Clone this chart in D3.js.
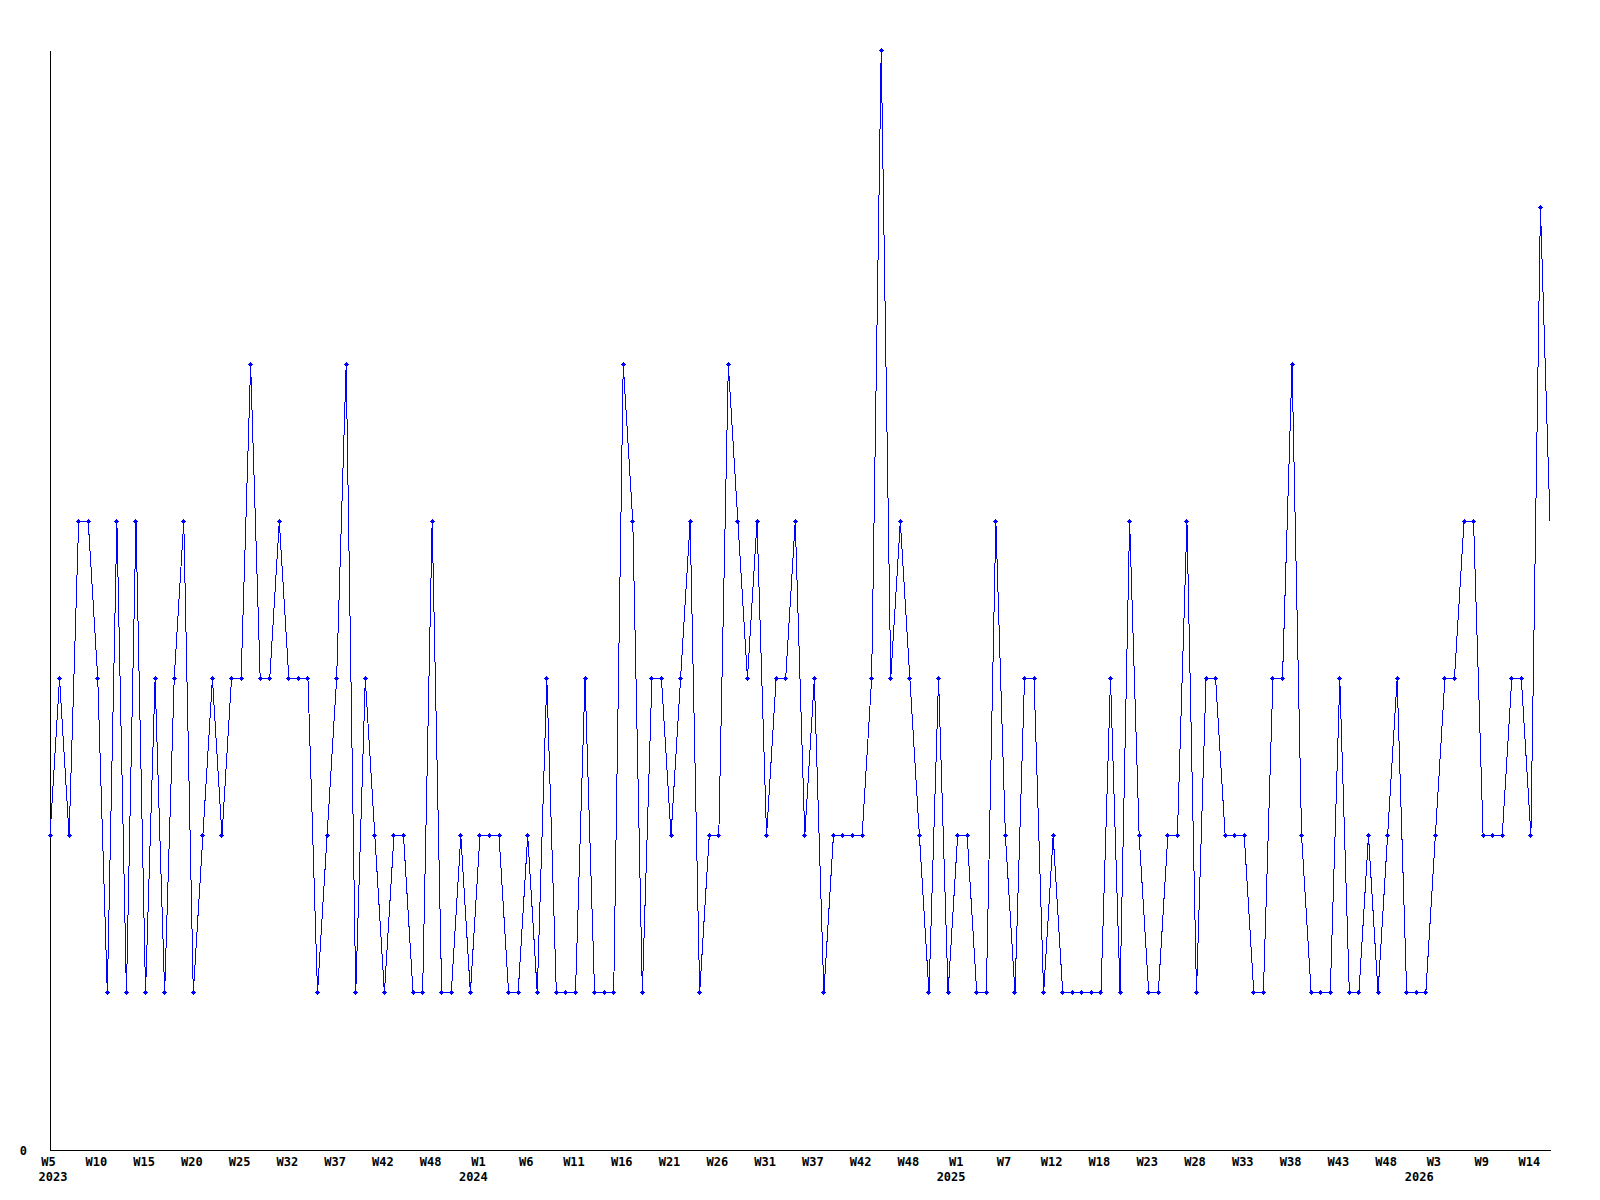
<!DOCTYPE html>
<html>
<head>
<meta charset="utf-8">
<script src="https://cdn.jsdelivr.net/npm/d3@7"></script>
<style>
  body { margin: 0; background: #fff; }
  svg text { font-family: "DejaVu Sans Mono", "Liberation Mono", monospace; font-weight: bold; font-size: 12px; fill: #000; }
</style>
</head>
<body>
<svg class="weekly" width="1600" height="1200"></svg>
<script>

// weekly counts, 2023 W5 -> 2026 W15 (last one is the running week, no marker)
var counts = [
  2, 3, 2, 4, 4, 3, 1, 4, 1, 4,
  1, 3, 1, 3, 4, 1, 2, 3, 2, 3,
  3, 5, 3, 3, 4, 3, 3, 3, 1, 2,
  3, 5, 1, 3, 2, 1, 2, 2, 1, 1,
  4, 1, 1, 2, 1, 2, 2, 2, 1, 1,
  2, 1, 3, 1, 1, 1, 3, 1, 1, 1,
  5, 4, 1, 3, 3, 2, 3, 4, 1, 2,
  2, 5, 4, 3, 4, 2, 3, 3, 4, 2,
  3, 1, 2, 2, 2, 2, 3, 7, 3, 4,
  3, 2, 1, 3, 1, 2, 2, 1, 1, 4,
  2, 1, 3, 3, 1, 2, 1, 1, 1, 1,
  1, 3, 1, 4, 2, 1, 1, 2, 2, 4,
  1, 3, 3, 2, 2, 2, 1, 1, 3, 3,
  5, 2, 1, 1, 1, 3, 1, 1, 2, 1,
  2, 3, 1, 1, 1, 2, 3, 3, 4, 4,
  2, 2, 2, 3, 3, 2, 6, 4
];

// one label every 5 points (some weeks are missing in the data, hence the jumps)
var tickLabels = ["W5", "W10", "W15", "W20", "W25", "W32", "W37", "W42", "W48",
  "W1", "W6", "W11", "W16", "W21", "W26", "W31", "W37", "W42", "W48",
  "W1", "W7", "W12", "W18", "W23", "W28", "W33", "W38", "W43", "W48",
  "W3", "W9", "W14"];

// point index where each year starts
var yearTicks = [0, 44, 94, 143];
var yearLabels = ["2023", "2024", "2025", "2026"];

var yMax = 7;

function drawWeekly() {
  var svg = d3.select(".weekly");

  var x = d3.scaleLinear()
    .domain([0, counts.length - 1])
    .range([50, 1550]);
  var y = d3.scaleLinear()
    .domain([0, yMax])
    .range([1150, 50]);

  var tickIdx = tickLabels.map(function(d, i) { return i * 5; });

  // x axis: just the baseline + week labels under every 5th point
  var xAxis = d3.axisBottom(x)
    .tickValues(tickIdx)
    .tickSize(0)
    .tickSizeOuter(0)
    .tickFormat(function(d, i) { return tickLabels[i]; });

  var gx = svg.append("g")
    .attr("transform", "translate(0,1150)")
    .call(xAxis);
  gx.select(".domain").attr("stroke", "#000").attr("shape-rendering", "crispEdges");
  gx.selectAll("text")
    .attr("x", -2)
    .attr("y", 16)
    .attr("dy", 0)
    .attr("font-family", null)
    .attr("font-size", null);

  // year line under the first week of each year
  gx.selectAll(".year")
    .data(yearTicks)
    .enter().append("text")
    .attr("class", "year")
    .attr("x", function(d) { return x(d) + 3; })
    .attr("y", 31)
    .attr("text-anchor", "middle")
    .text(function(d, i) { return yearLabels[i]; });

  // y axis only shows the 0
  var yAxis = d3.axisLeft(y)
    .tickValues([0])
    .tickFormat(d3.format("d"))
    .tickSize(0)
    .tickSizeOuter(0)
    .tickPadding(23);

  var gy = svg.append("g")
    .attr("transform", "translate(50,0)")
    .call(yAxis);
  gy.select(".domain").attr("stroke", "#000").attr("shape-rendering", "crispEdges");
  gy.selectAll("text")
    .attr("font-family", null)
    .attr("font-size", null)
    .attr("dy", "0.35em");

  var line = d3.line()
    .x(function(d, i) { return x(i); })
    .y(function(d) { return y(d); });

  svg.append("path")
    .datum(counts)
    .attr("d", line)
    .attr("fill", "none")
    .attr("stroke", "#0000ff")
    .attr("stroke-width", 1)
    .attr("shape-rendering", "crispEdges");

  // little plus markers, not on the last (unfinished) week
  svg.selectAll(".pt")
    .data(counts.slice(0, counts.length - 1))
    .enter().append("path")
    .attr("class", "pt")
    .attr("transform", function(d, i) {
      return "translate(" + Math.floor(x(i)) + "," + Math.floor(y(d)) + ")";
    })
    .attr("d", "M-2,0h5v1h-5z M-1,-1h3v3h-3z M0,-2h1v5h-1z")
    .attr("fill", "#0000ff")
    .attr("shape-rendering", "crispEdges");
}

drawWeekly();
</script>
</body>
</html>
